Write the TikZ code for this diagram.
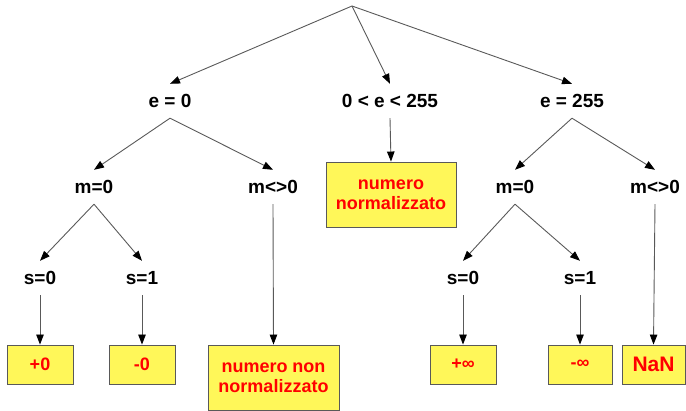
\documentclass[tikz,border=0pt]{standalone}
\usepackage{fontspec}
\setmainfont{Liberation Sans}
\usetikzlibrary{arrows.meta}
\begin{document}
\begin{tikzpicture}[x=1pt,y=-1pt,
  cond/.style={inner sep=0pt, minimum height=34pt, text height=14pt, text depth=0pt,
    font=\fontsize{19}{22}\selectfont\bfseries, text=black},
  result/.style={draw=black!65, fill=yellow!65, line width=0.9pt, inner sep=0pt,
    align=center, text=red, font=\fontsize{18}{20}\selectfont\bfseries},
  branch/.style={draw=black!65, line width=0.9pt,
    -{Triangle[length=10pt,width=7.5pt,color=black]}}]
\useasboundingbox (0,0) rectangle (686,411);

% decision labels
\coordinate (root) at (352,6);
\node[cond] (e0)   at (170,101) {e = 0};
\node[cond] (emid) at (390,101) {0 < e < 255};
\node[cond] (emax) at (572,101) {e = 255};
\node[cond] (m0a)  at (94,187)  {m=0};
\node[cond] (mnza) at (273,187) {m<>0};
\node[cond] (m0b)  at (515,187) {m=0};
\node[cond] (mnzb) at (655,187) {m<>0};
\node[cond] (s0a)  at (40,278)  {s=0};
\node[cond] (s1a)  at (142,278) {s=1};
\node[cond] (s0b)  at (463,278) {s=0};
\node[cond] (s1b)  at (580,278) {s=1};

% outcomes
\node[result, minimum width=130pt, minimum height=65pt] (norm) at (391,194.5) {numero\\normalizzato};
\node[result, minimum width=66pt, minimum height=39pt] (pz) at (40,364.5) {+0};
\node[result, minimum width=66pt, minimum height=39pt] (nz) at (142,364.5) {-0};
\node[result, minimum width=131pt, minimum height=65pt] (den) at (273.5,377.5) {numero non\\normalizzato};
\node[result, minimum width=66pt, minimum height=39pt] (pinf) at (463,364.5) {+∞};
\node[result, minimum width=64pt, minimum height=39pt] (ninf) at (580,364.5) {-∞};
\node[result, minimum width=63pt, minimum height=39pt, font=\fontsize{21}{24}\selectfont\bfseries] (nan) at (653.5,364.5) {NaN};

% connectors
\draw[branch] (root) -- (e0.north);
\draw[branch] (root) -- (emid.north);
\draw[branch] (root) -- (emax.north);
\draw[branch] (e0.south) -- (m0a.north);
\draw[branch] (e0.south) -- (mnza.north);
\draw[branch] (emax.south) -- (m0b.north);
\draw[branch] (emax.south) -- (mnzb.north);
\draw[branch] (emid.south) -- (norm.north);
\draw[branch] (m0a.south) -- (s0a.north);
\draw[branch] (m0a.south) -- (s1a.north);
\draw[branch] (m0b.south) -- (s0b.north);
\draw[branch] (m0b.south) -- (s1b.north);
\draw[branch] (s0a.south) -- (pz.north);
\draw[branch] (s1a.south) -- (nz.north);
\draw[branch] (mnza.south) -- (den.north);
\draw[branch] (s0b.south) -- (pinf.north);
\draw[branch] (s1b.south) -- (ninf.north);
\draw[branch] (mnzb.south) -- (nan.north);
\end{tikzpicture}
\end{document}
